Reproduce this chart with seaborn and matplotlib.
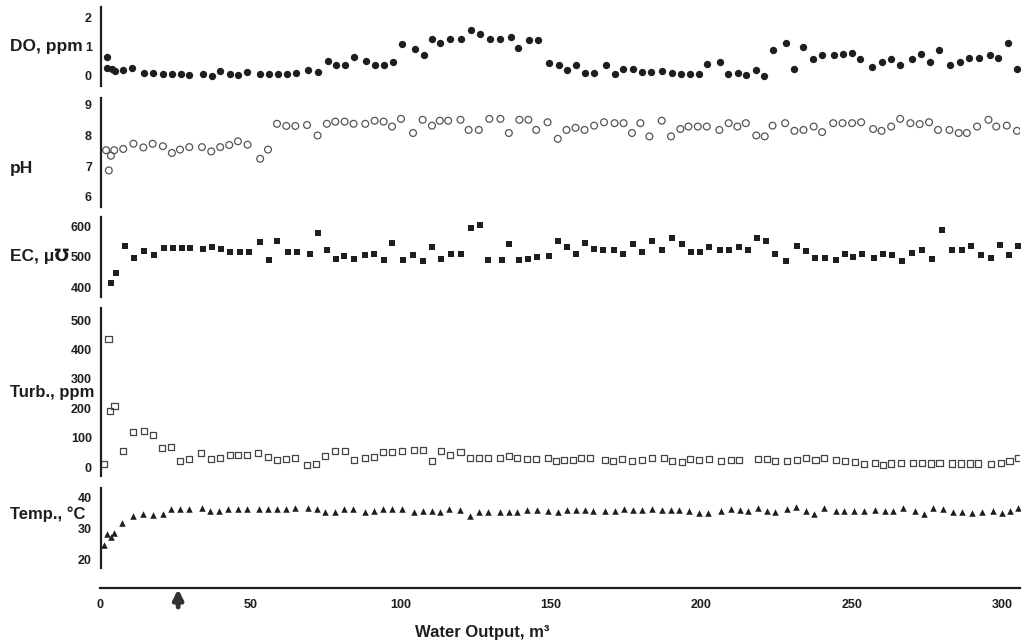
import matplotlib
matplotlib.use("Agg")
import matplotlib.pyplot as plt
import seaborn as sns
import pandas as pd

# ---------------- data ----------------
do_x = [2, 2, 3.5, 4.5, 7.4, 10.4, 14.3, 17.4, 20.6, 23.6, 26.7, 29.4, 33.9, 36.9, 39.7, 42.8, 45.6, 48.6,
        52.8, 55.8, 58.8, 61.9, 65.0, 68.8, 72.4, 75.6, 78.2, 81.1, 84.3, 88.2, 91.3, 94.1, 97.2, 100.2,
        104.4, 107.4, 110.2, 113.0, 116.1, 119.9, 123.2, 126.3, 129.4, 133.0, 136.5, 139.0, 142.4, 145.6,
        149.1, 152.4, 155.0, 158.0, 161.1, 164.2, 168.2, 171.1, 173.9, 177.0, 180.1, 183.1, 186.9, 190.0,
        193.1, 196.1, 199.1, 201.9, 206.0, 208.9, 212.1, 214.9, 218.0, 220.8, 223.9, 228.0, 230.8, 233.9,
        237.1, 240.2, 244.1, 246.9, 250.0, 252.8, 256.7, 259.9, 263.0, 266.0, 270.0, 273.2, 276.0, 278.9,
        282.8, 286.1, 289.1, 292.2, 296.0, 298.8, 302.1, 305.0]
do_y = [0.65, 0.27, 0.25, 0.17, 0.19, 0.27, 0.09, 0.09, 0.08, 0.07, 0.07, 0.02, 0.06, 0.0, 0.16, 0.07, 0.02, 0.12,
        0.07, 0.05, 0.06, 0.08, 0.09, 0.19, 0.12, 0.52, 0.36, 0.38, 0.65, 0.50, 0.38, 0.36, 0.48, 1.08,
        0.93, 0.73, 1.28, 1.12, 1.26, 1.26, 1.57, 1.43, 1.26, 1.26, 1.35, 0.97, 1.23, 1.22,
        0.45, 0.38, 0.19, 0.36, 0.09, 0.09, 0.36, 0.07, 0.23, 0.23, 0.12, 0.12, 0.15, 0.09,
        0.07, 0.05, 0.05, 0.42, 0.47, 0.05, 0.09, 0.02, 0.19, 0.01, 0.88, 1.12, 0.24, 0.99,
        0.59, 0.73, 0.73, 0.76, 0.77, 0.58, 0.30, 0.48, 0.58, 0.36, 0.58, 0.76, 0.47, 0.88,
        0.36, 0.47, 0.62, 0.62, 0.71, 0.62, 1.14, 0.24]

ph_x = [1.7, 2.6, 3.3, 4.4, 7.4, 10.8, 14.1, 17.2, 20.6, 23.6, 26.3, 29.4, 33.6, 36.7, 39.7, 42.7, 45.6, 48.8,
        53.0, 55.6, 58.6, 61.7, 64.7, 68.6, 72.1, 75.2, 78.0, 81.1, 84.1, 88.0, 91.1, 94.1, 96.9,
        99.9, 103.9, 107.1, 110.2, 112.8, 115.6, 119.7, 122.4, 125.8, 129.3, 133.0, 135.8, 139.3, 142.3,
        144.9, 148.7, 152.1, 155.0, 158.0, 161.0, 164.2, 167.5, 171.0, 174.0, 176.8, 179.6, 182.6, 186.7,
        189.8, 192.9, 195.6, 198.7, 201.7, 205.9, 209.0, 211.9, 214.7, 218.2, 221.0, 223.6, 227.8, 230.9,
        233.9, 237.3, 240.1, 243.8, 246.9, 250.1, 253.1, 257.1, 259.9, 263.1, 266.1, 269.5, 272.6, 275.7,
        278.7, 282.5, 285.6, 288.3, 291.7, 295.5, 298.1, 301.6, 305.0]
ph_y = [7.52, 6.86, 7.34, 7.52, 7.56, 7.73, 7.61, 7.73, 7.65, 7.43, 7.54, 7.62, 7.62, 7.48, 7.62, 7.69, 7.81, 7.70,
        7.24, 7.54, 8.38, 8.31, 8.31, 8.34, 8.00, 8.38, 8.45, 8.45, 8.38, 8.38, 8.48, 8.45, 8.29,
        8.54, 8.08, 8.51, 8.32, 8.48, 8.48, 8.51, 8.18, 8.18, 8.54, 8.54, 8.08, 8.51, 8.51,
        8.18, 8.43, 7.89, 8.18, 8.25, 8.18, 8.32, 8.43, 8.40, 8.40, 8.08, 8.40, 7.97, 8.48,
        7.97, 8.21, 8.29, 8.29, 8.29, 8.18, 8.40, 8.29, 8.40, 8.00, 7.97, 8.32, 8.40, 8.15,
        8.18, 8.29, 8.11, 8.40, 8.40, 8.40, 8.43, 8.21, 8.15, 8.29, 8.54, 8.40, 8.37, 8.43,
        8.18, 8.18, 8.08, 8.08, 8.29, 8.51, 8.29, 8.32, 8.15]

ec_x = [3.2, 5.0, 8.0, 11.1, 14.4, 17.8, 20.9, 23.9, 26.9, 29.7, 34.1, 37.1, 40.0, 42.9, 46.3, 49.2, 52.8, 56.1,
        58.7, 62.2, 65.1, 69.5, 72.1, 75.4, 78.3, 80.9, 84.2, 87.8, 90.8, 94.1, 97.0, 100.4, 103.9, 107.3,
        110.2, 113.1, 116.7, 120.0, 123.2, 126.2, 129.0, 133.4, 136.0, 139.3, 142.3, 145.2, 149.1, 152.1,
        155.0, 158.0, 161.0, 164.2, 167.2, 170.8, 173.7, 177.0, 180.2, 183.5, 186.9, 190.1, 193.3, 196.3,
        199.3, 202.6, 206.1, 209.0, 212.4, 215.4, 218.4, 221.5, 224.5, 228.1, 231.7, 234.7, 237.6, 241.2,
        244.6, 247.6, 250.4, 253.4, 257.3, 260.3, 263.3, 266.6, 270.1, 273.4, 276.6, 280.0, 283.3, 286.8,
        289.8, 293.0, 296.5, 299.5, 302.3, 305.3]
ec_y = [413, 445, 537, 497, 520, 505, 529, 529, 529, 529, 525, 534, 525, 516, 516, 516, 548, 491,
        551, 517, 516, 511, 580, 522, 494, 502, 494, 505, 511, 491, 546, 491, 505, 487,
        534, 493, 511, 508, 594, 606, 491, 491, 543, 491, 493, 500, 502, 551,
        534, 510, 546, 525, 522, 522, 511, 543, 517, 551, 522, 562, 543, 517,
        516, 531, 522, 522, 534, 522, 562, 554, 508, 487, 537, 520, 497, 497,
        489, 511, 499, 508, 497, 511, 506, 485, 514, 522, 493, 589, 522, 522,
        537, 505, 497, 540, 507, 535]

turb_x = [1.0, 2.5, 3.0, 4.5, 7.4, 10.6, 14.4, 17.4, 20.4, 23.2, 26.3, 29.4, 33.3, 36.7, 39.7, 42.8, 45.6, 48.6,
          52.4, 55.6, 58.6, 61.7, 64.7, 68.6, 71.7, 74.7, 78.0, 81.3, 84.1, 87.8, 90.8, 93.9, 96.9, 100.2,
          104.1, 107.2, 110.2, 113.2, 116.3, 119.7, 123.0, 126.0, 129.0, 132.7, 135.8, 138.6,
          142.0, 144.8, 148.7, 151.5, 154.3, 157.1, 159.9, 162.7, 167.8, 170.6, 173.4, 176.8, 180.1, 183.5,
          187.4, 190.2, 193.3, 196.2, 199.2, 202.6, 206.5, 209.7, 212.5, 218.9, 221.7, 224.5, 228.4, 231.8,
          234.6, 237.9, 240.7, 244.7, 247.7, 251.1, 254.0, 257.6, 260.4, 263.2, 266.3, 270.5, 273.3, 276.4,
          279.2, 283.4, 286.2, 289.2, 292.1, 296.5, 299.8, 302.5, 305.3]
turb_y = [10, 437, 190, 207, 55, 119, 123, 110, 64, 68, 22, 27, 49, 27, 31, 41, 41, 41,
          49, 36, 24, 27, 31, 8, 11, 38, 57, 55, 24, 33, 35, 53, 53, 55,
          60, 58, 22, 55, 42, 53, 31, 31, 31, 31, 38, 33,
          27, 27, 33, 22, 25, 25, 31, 31, 24, 22, 29, 22, 24, 33,
          31, 22, 19, 27, 24, 27, 22, 24, 24, 27, 27, 22, 22, 24,
          31, 24, 31, 24, 22, 19, 11, 16, 8, 13, 16, 16, 16, 13,
          16, 13, 13, 13, 13, 11, 16, 22, 31]

temp_x = [1.1, 2.1, 3.3, 4.4, 7.1, 10.8, 14.1, 17.4, 20.6, 23.3, 26.3, 29.4, 33.6, 36.3, 39.4, 42.4, 45.6, 48.6,
          52.7, 55.6, 58.6, 61.7, 64.7, 68.8, 71.9, 74.7, 77.8, 80.8, 83.9, 87.8, 90.8, 93.9, 96.9, 100.2,
          104.1, 107.2, 110.2, 113.0, 115.8, 119.6, 123.0, 126.0, 129.0, 132.9, 135.8, 138.6,
          142.0, 145.3, 148.7, 152.1, 155.2, 158.3, 161.1, 163.9, 167.8, 171.2, 174.3, 177.1, 180.1, 183.5,
          186.9, 189.7, 192.5, 195.9, 199.2, 202.0, 206.5, 209.7, 212.7, 215.5, 218.9, 221.7, 224.5, 228.4,
          231.5, 234.6, 237.4, 240.7, 244.7, 247.5, 250.8, 254.0, 257.8, 261.0, 263.8, 266.9, 271.0, 273.9,
          277.0, 280.4, 283.7, 286.8, 289.9, 293.3, 296.9, 300.0, 302.6, 305.2]
temp_y = [24.6, 28.1, 27.3, 28.4, 31.6, 34.0, 34.6, 34.3, 34.6, 36.1, 36.2, 36.1, 36.5, 35.6, 35.6, 36.1, 36.1, 36.1,
          36.1, 36.1, 36.1, 36.1, 36.5, 36.5, 36.1, 35.1, 35.4, 36.1, 36.1, 35.4, 35.6, 36.1, 36.1, 36.1,
          35.4, 35.6, 35.6, 35.4, 36.1, 35.9, 34.1, 35.4, 35.4, 35.4, 35.2, 35.4,
          35.9, 35.9, 35.6, 35.4, 35.9, 35.9, 35.9, 35.6, 35.6, 35.6, 36.1, 35.9, 35.9, 36.1,
          35.9, 35.9, 35.9, 35.6, 34.8, 34.8, 35.6, 36.1, 35.9, 35.6, 36.5, 35.6, 35.4, 36.1,
          36.8, 35.6, 34.6, 36.5, 35.6, 35.6, 35.6, 35.6, 35.9, 35.6, 35.6, 36.5, 35.6, 34.6,
          36.5, 36.1, 35.4, 35.1, 34.8, 35.1, 35.6, 34.8, 35.6, 36.5]

x_ticks = [0, 50, 100, 150, 200, 250, 300]
panel_labels = ["DO, ppm", "pH", "EC, μ℧", "Turb., ppm", "Temp., °C"]
x_label = "Water Output, m³"
arrow_at = 26

# ---------------- style ----------------
sns.set_style("white")
plt.rcParams["font.family"] = ["Liberation Sans", "DejaVu Sans"]
INK = "#1e1e1e"

W, H = 1026, 642
fig = plt.figure(figsize=(W / 100, H / 100), dpi=100)
LEFT_PX, RIGHT_PX = 101, 1020
XMAX = 306


def add_panel(top_px, bot_px):
    return fig.add_axes([LEFT_PX / W, 1 - bot_px / H, (RIGHT_PX - LEFT_PX) / W, (bot_px - top_px) / H])


def style(ax, ylim, yticks):
    ax.set_xlim(0, XMAX)
    ax.set_ylim(*ylim)
    for s in ["top", "right", "bottom"]:
        ax.spines[s].set_visible(False)
    ax.spines["left"].set_linewidth(1.6)
    ax.spines["left"].set_color(INK)
    ax.set_xticks([])
    ax.set_yticks(yticks)
    ax.tick_params(axis="y", direction="out", length=5, width=1.3, color=INK,
                   labelsize=9, pad=1.5, labelcolor=INK)
    for lab in ax.get_yticklabels():
        lab.set_fontweight("bold")
    ax.set_xlabel("")
    ax.set_ylabel("")
    ax.patch.set_alpha(0)


# DO
ax1 = add_panel(7, 86)
sns.scatterplot(data=pd.DataFrame({"x": do_x, "y": do_y}), x="x", y="y", ax=ax1,
                marker="o", s=28, color=INK, edgecolor=INK, linewidth=0)
style(ax1, (-0.35, 2.37), [0, 1, 2])

# pH
ax2 = add_panel(98, 207)
sns.scatterplot(data=pd.DataFrame({"x": ph_x, "y": ph_y}), x="x", y="y", ax=ax2,
                marker="o", s=24, fc="none", ec="#555555", linewidth=0.9)
style(ax2, (5.67, 9.22), [6, 7, 8, 9])

# EC
ax3 = add_panel(217, 297)
sns.scatterplot(data=pd.DataFrame({"x": ec_x, "y": ec_y}), x="x", y="y", ax=ax3,
                marker="s", s=19, color=INK, edgecolor=INK, linewidth=0)
style(ax3, (367, 632), [400, 500, 600])

# Turbidity
ax4 = add_panel(308, 476)
sns.scatterplot(data=pd.DataFrame({"x": turb_x, "y": turb_y}), x="x", y="y", ax=ax4,
                marker="s", s=19, fc="none", ec="#444444", linewidth=0.9)
style(ax4, (-29.5, 541), [0, 100, 200, 300, 400, 500])

# Temperature
ax5 = add_panel(488, 568)
sns.scatterplot(data=pd.DataFrame({"x": temp_x, "y": temp_y}), x="x", y="y", ax=ax5,
                marker="^", s=22, color=INK, edgecolor=INK, linewidth=0)
style(ax5, (17.2, 43), [20, 30, 40])

# shared x axis line
axx = fig.add_axes([LEFT_PX / W - 0.001, 1 - 588 / H, (RIGHT_PX - LEFT_PX) / W + 0.001, 0.02])
axx.set_xlim(0, XMAX)
axx.set_ylim(0, 1)
for s in ["top", "right", "left"]:
    axx.spines[s].set_visible(False)
axx.spines["bottom"].set_linewidth(1.6)
axx.spines["bottom"].set_color(INK)
axx.set_yticks([])
axx.set_xticks(x_ticks)
axx.set_xticklabels([str(t) for t in x_ticks], fontweight="bold")
axx.tick_params(axis="x", direction="out", length=5, width=1.2, color=INK,
                labelsize=9, pad=3, labelcolor=INK)
axx.patch.set_alpha(0)

# arrow under the axis, pointing up
axx.annotate("", xy=(arrow_at, 1 - 589 / H), xycoords=("data", "figure fraction"),
             xytext=(arrow_at, 1 - 607 / H), textcoords=("data", "figure fraction"),
             arrowprops=dict(arrowstyle="-|>", lw=3.5, color="#333333", mutation_scale=14,
                             shrinkA=0, shrinkB=0))

# panel labels
label_y = [46, 168, 256, 392, 514]
label_size = [12.5, 12.5, 12.5, 12, 12]
for txt, py, fs in zip(panel_labels, label_y, label_size):
    fig.text(10 / W, 1 - py / H, txt, ha="left", va="center", fontsize=fs,
             fontweight="bold", color=INK)

fig.text(482 / W, 1 - 632 / H, x_label, ha="center", va="center", fontsize=12,
         fontweight="bold", color=INK)

fig.savefig("out.png", dpi=100)
